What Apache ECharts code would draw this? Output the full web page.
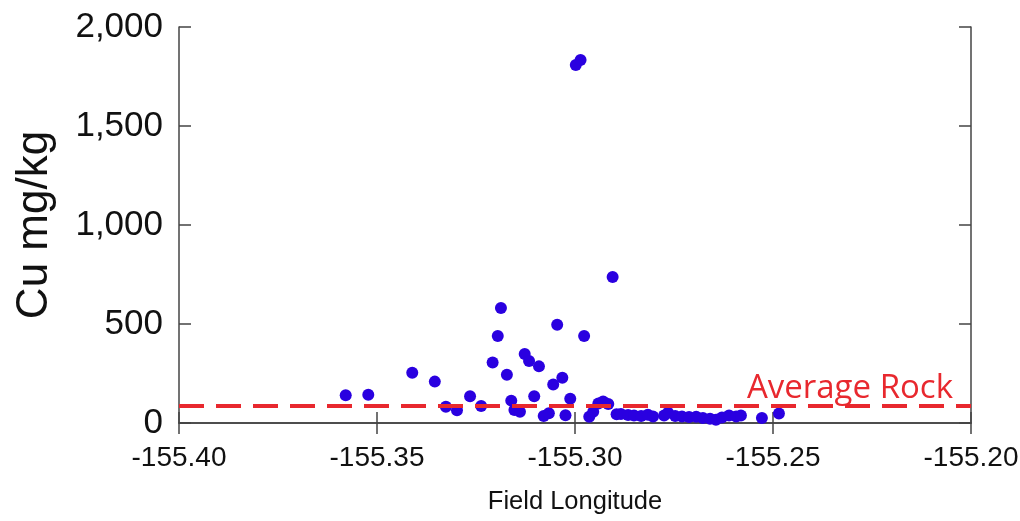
<!DOCTYPE html>
<html>
<head>
<meta charset="utf-8">
<script src="https://cdn.jsdelivr.net/npm/echarts@6/dist/echarts.min.js"></script>
<style>
  html, body { margin: 0; padding: 0; background: #fff; }
  #main { width: 1020px; height: 521px; }
</style>
</head>
<body>
<div id="main"></div>
<script>
// 经度 (Field Longitude)
const longitude = [
  -155.3579, -155.3522, -155.3411, -155.3354, -155.3326, -155.3298, -155.3265, -155.3237,
  -155.3208, -155.3195, -155.3187, -155.3172, -155.3161, -155.3153, -155.3139, -155.3127,
  -155.3116, -155.3091, -155.3103, -155.3079, -155.3066, -155.3055, -155.3045, -155.3032,
  -155.3024, -155.3012, -155.2998, -155.2986, -155.2977, -155.2964, -155.2954, -155.2941,
  -155.2929, -155.2916, -155.2905, -155.2895, -155.2884, -155.2866, -155.2851, -155.2833,
  -155.2816, -155.2803, -155.2775, -155.2765, -155.2747, -155.2730, -155.2712, -155.2694,
  -155.2677, -155.2659, -155.2644, -155.2629, -155.2611, -155.2593, -155.2581, -155.2528,
  -155.2485
];
// Cu 含量 (mg/kg)
const cu = [
  140, 143, 254, 209, 82, 64, 135, 86,
  305, 439, 581, 244, 113, 66, 57, 348,
  313, 286, 135, 35, 49, 195, 496, 229,
  39, 123, 1808, 1833, 439, 32, 57, 99,
  108, 96, 737, 44, 45, 40, 38, 35,
  42, 33, 38, 52, 35, 33, 30, 32,
  25, 22, 17, 28, 38, 33, 38, 25,
  48
];
const averageRock = 85; // 平均岩石 Cu 含量
const xTicks = [-155.40, -155.35, -155.30, -155.25, -155.20];
const yTicks = [0, 500, 1000, 1500, 2000];

const myChart = echarts.init(document.getElementById('main'));

const points = longitude.map((lon, i) => [lon, cu[i]]);
const frame = { show: true, lineStyle: { color: '#444', width: 1.5 } };

const option = {
  animation: false,
  grid: { left: 179, right: 49, top: 27, bottom: 98, outerBoundsMode: 'none', containLabel: false },
  xAxis: [
    {
      type: 'value',
      min: xTicks[0],
      max: xTicks[xTicks.length - 1],
      interval: 0.05,
      name: 'Field Longitude',
      nameLocation: 'middle',
      nameGap: 66,
      nameTextStyle: { fontFamily: 'Liberation Sans', fontSize: 25.5, color: '#111' },
      axisLine: frame,
      axisTick: { show: true, inside: true, length: 11, lineStyle: { color: '#444', width: 1.5 } },
      axisLabel: {
        margin: 21,
        fontFamily: 'Liberation Sans',
        fontSize: 28,
        color: '#111',
        formatter: v => v.toFixed(2)
      },
      splitLine: { show: false }
    },
    {
      type: 'value',
      position: 'top',
      min: xTicks[0],
      max: xTicks[xTicks.length - 1],
      interval: 0.05,
      axisLine: frame,
      axisTick: { show: true, inside: true, length: 11, lineStyle: { color: '#444', width: 1.5 } },
      axisLabel: { show: false },
      splitLine: { show: false }
    }
  ],
  yAxis: [
    {
      type: 'value',
      min: yTicks[0],
      max: yTicks[yTicks.length - 1],
      interval: 500,
      name: 'Cu mg/kg',
      nameLocation: 'middle',
      nameGap: 122,
      nameTextStyle: { fontFamily: 'Liberation Sans', fontSize: 44, color: '#111' },
      axisLine: frame,
      axisTick: { show: true, inside: true, length: 12, lineStyle: { color: '#444', width: 1.5 } },
      axisLabel: {
        margin: 16,
        fontFamily: 'Liberation Sans',
        fontSize: 35,
        color: '#111',
        formatter: v => v.toLocaleString('en-US')
      },
      splitLine: { show: false }
    },
    {
      type: 'value',
      position: 'right',
      min: yTicks[0],
      max: yTicks[yTicks.length - 1],
      interval: 500,
      axisLine: frame,
      axisTick: { show: true, inside: true, length: 12, lineStyle: { color: '#444', width: 1.5 } },
      axisLabel: { show: false },
      splitLine: { show: false }
    }
  ],
  series: [
    {
      type: 'scatter',
      data: points,
      symbol: 'circle',
      symbolSize: 12,
      itemStyle: { color: '#2a00e0', opacity: 1 },
      markLine: {
        silent: true,
        symbol: ['none', 'none'],
        lineStyle: { color: '#e8282e', width: 4, type: [25, 12] },
        label: {
          show: true,
          position: 'insideEndTop',
          distance: [18, 1],
          formatter: 'Average Rock',
          fontFamily: 'Open Sans',
          fontSize: 33,
          color: '#e8282e'
        },
        data: [{ yAxis: averageRock }]
      },
      z: 3
    }
  ]
};

myChart.setOption(option);
</script>
</body>
</html>
